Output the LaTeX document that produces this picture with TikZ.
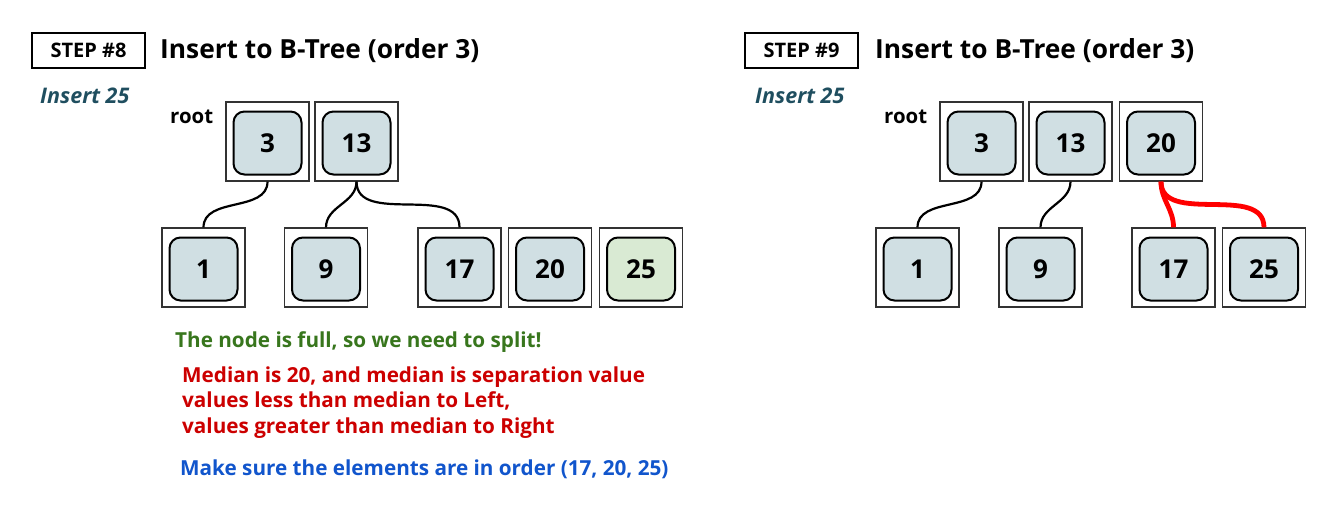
\documentclass[tikz,border=0pt]{standalone}
\usepackage{fontspec}
\setmainfont{Open Sans}
\definecolor{cellfill}{HTML}{D0DFE3}
\definecolor{newfill}{HTML}{D9EAD3}
\definecolor{insertcol}{HTML}{1F4E5F}
\definecolor{greencol}{HTML}{38761D}
\definecolor{redcol}{HTML}{CC0000}
\definecolor{bluecol}{HTML}{1155CC}
\definecolor{linkred}{HTML}{FF0000}
\begin{document}
\begin{tikzpicture}[x=1pt,y=-1pt,
  outer/.style={draw=black!80,line width=1.2pt,minimum width=83pt,minimum height=79pt,inner sep=0pt},
  cell/.style={draw=black,line width=2pt,rounded corners=11pt,fill=cellfill,minimum width=68pt,minimum height=63pt,inner sep=0pt,font=\fontsize{26}{30}\bfseries},
  newcell/.style={cell,fill=newfill},
  stepbox/.style={draw=black,line width=1.5pt,minimum width=113pt,minimum height=35pt,inner sep=0pt,font=\fontsize{20}{22}\bfseries},
  title/.style={anchor=base west,inner sep=0pt,font=\fontsize{26.3}{30}\bfseries},
  ins/.style={anchor=base west,inner sep=0pt,font=\fontsize{21.5}{24}\bfseries\itshape,text=insertcol},
  rootlbl/.style={anchor=base west,inner sep=0pt,font=\fontsize{20.4}{24}\bfseries},
  msg/.style={anchor=base west,inner sep=0pt,font=\fontsize{20.7}{25}\bfseries},
  link/.style={line width=2.2pt,black},
  redlink/.style={line width=4.8pt,linkred}
]
\useasboundingbox (0,0) rectangle (1336,519);
% ---------- STEP 8 ----------
\node[stepbox] (s8) at (88.5,50.5) {STEP \#8};
\node[title] (t8) at (160,59) {Insert to B-Tree (order 3)};
\node[ins] (i8) at (40,103) {Insert 25};
\node[rootlbl] (r8) at (170,123) {root};
\node[outer] (a3o) at (267.5,141.5) {};
\node[cell] (a3) at (267.5,143) {3};
\node[outer] (a13o) at (356.5,141.5) {};
\node[cell] (a13) at (356.5,143) {13};
\node[outer] (a1o) at (203.5,267.5) {};
\node[cell] (a1) at (203.5,269) {1};
\node[outer] (a9o) at (326,267.5) {};
\node[cell] (a9) at (326,269) {9};
\node[outer] (a17o) at (459.5,267.5) {};
\node[cell] (a17) at (459.5,269) {17};
\node[outer] (a20o) at (550,267.5) {};
\node[cell] (a20) at (550,269) {20};
\node[outer] (a25o) at (641,267.5) {};
\node[newcell] (a25) at (641,269) {25};
\draw[link] (a3o.south) to[out=-90,in=90] (a1o.north);
\draw[link] (a13o.south) to[out=-90,in=90] (a9o.north);
\draw[link] (a13o.south) to[out=-90,in=90] (a17o.north);
\node[msg,text=greencol] (m1) at (175,347) {The node is full, so we need to split!};
\node[msg,text=redcol] (m2a) at (182,382) {Median is 20, and median is separation value};
\node[msg,text=redcol] (m2b) at (182,407.5) {values less than median to Left,};
\node[msg,text=redcol] (m2c) at (182,433) {values greater than median to Right};
\node[msg,text=bluecol] (m3) at (180,475) {Make sure the elements are in order (17, 20, 25)};
% ---------- STEP 9 ----------
\node[stepbox] (s9) at (801.5,50.5) {STEP \#9};
\node[title] (t9) at (875,59) {Insert to B-Tree (order 3)};
\node[ins] (i9) at (755,103) {Insert 25};
\node[rootlbl] (r9) at (884,123) {root};
\node[outer] (b3o) at (981.5,141.5) {};
\node[cell] (b3) at (981.5,143) {3};
\node[outer] (b13o) at (1070.5,141.5) {};
\node[cell] (b13) at (1070.5,143) {13};
\node[outer] (b20o) at (1161,141.5) {};
\node[cell] (b20) at (1161,143) {20};
\node[outer] (b1o) at (917.5,267.5) {};
\node[cell] (b1) at (917.5,269) {1};
\node[outer] (b9o) at (1040.5,267.5) {};
\node[cell] (b9) at (1040.5,269) {9};
\node[outer] (b17o) at (1173.5,267.5) {};
\node[cell] (b17) at (1173.5,269) {17};
\node[outer] (b25o) at (1264,267.5) {};
\node[cell] (b25) at (1264,269) {25};
\draw[link] (b3o.south) to[out=-90,in=90] (b1o.north);
\draw[link] (b13o.south) to[out=-90,in=90] (b9o.north);
\draw[redlink] (b20o.south) to[out=-90,in=90] (b17o.north);
\draw[redlink] (b20o.south) to[out=-90,in=90] (b25o.north);
\end{tikzpicture}
\end{document}
